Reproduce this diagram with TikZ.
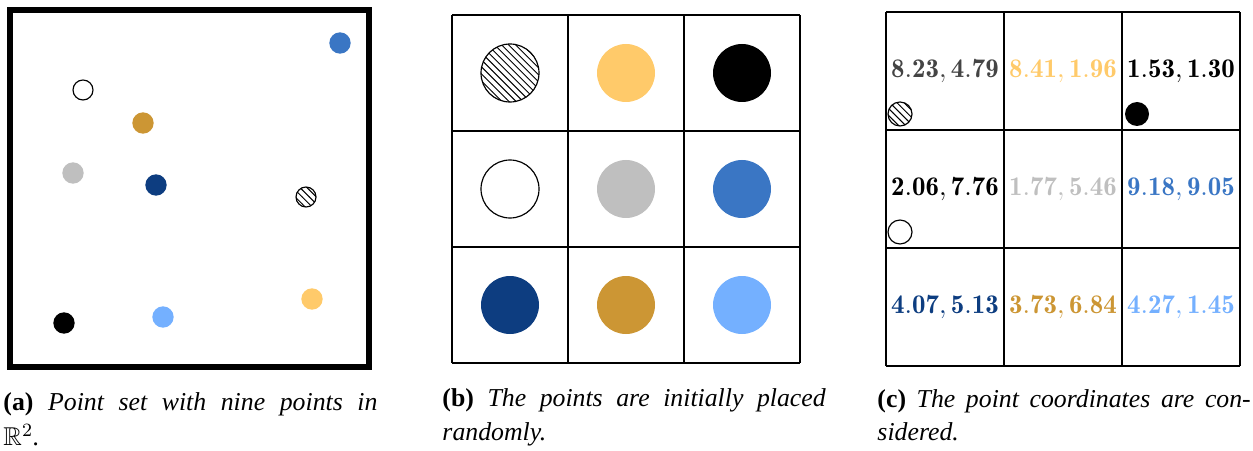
\documentclass[tikz,border=0pt]{standalone}
\usepackage{amsmath}
\usepackage{amssymb}
\usepackage{fontspec}
\usepackage{xcolor}
\usetikzlibrary{patterns}
\newfontfamily\capfont{Liberation Serif}
\definecolor{ptyellow}{RGB}{255, 202, 106}
\definecolor{ptgold}{RGB}{204, 150, 52}
\definecolor{ptnavy}{RGB}{13, 61, 128}
\definecolor{ptblue}{RGB}{58, 118, 196}
\definecolor{ptsky}{RGB}{116, 176, 255}
\definecolor{ptgray}{RGB}{191, 191, 191}
\definecolor{ptdark}{RGB}{68, 68, 68}

\begin{document}
\begin{tikzpicture}[>=stealth,
    hatchpt/.style={draw=black, line width=0.5pt, pattern=north west lines},
    openpt/.style={draw=black, line width=0.5pt, fill=white},
    cell/.style={line width=0.5pt},
    coord/.style={inner sep=0pt, scale=1.15},
    captext/.style={anchor=base west, inner sep=0pt, font=\capfont\fontsize{11}{13}\selectfont}]
    \useasboundingbox (0,0) rectangle (18.795,6.75);

    % Point set
    \draw[line width=0.09cm] (0.15,1.245) rectangle (5.54,6.6);
    \fill[ptblue] (5.10,6.105) circle (0.16);
    \draw[openpt] (1.245,5.40) circle (0.15);
    \fill[ptgold] (2.145,4.905) circle (0.16);
    \fill[ptgray] (1.095,4.155) circle (0.16);
    \fill[ptnavy] (2.34,3.975) circle (0.16);
    \draw[hatchpt] (4.59,3.795) circle (0.15);
    \fill[ptyellow] (4.68,2.265) circle (0.16);
    \fill[ptsky] (2.445,1.995) circle (0.16);
    \fill[black] (0.96,1.905) circle (0.16);

    % Random placement in the grid
    \begin{scope}[shift={(6.78,1.305)}]
        \draw[cell] (0,0) grid[step=1.74] (5.22,5.22);
        \foreach \c/\r/\col in {1/2/ptyellow, 2/2/black, 1/1/ptgray, 2/1/ptblue, 0/0/ptnavy, 1/0/ptgold, 2/0/ptsky}
            \fill[\col] (0.87+1.74*\c,0.87+1.74*\r) circle (0.435);
        \draw[hatchpt] (0.87,4.35) circle (0.435);
        \draw[openpt] (0.87,2.61) circle (0.435);
    \end{scope}

    % Coordinates in the grid
    \begin{scope}[shift={(13.29,1.26)}]
        \draw[cell] (0,0) grid[step=1.77] (5.31,5.31);
        \foreach \c/\r/\col/\txt in {0/2/ptdark/{8.23, 4.79}, 1/2/ptyellow/{8.41, 1.96}, 2/2/black/{1.53, 1.30},
                0/1/black/{2.06, 7.76}, 1/1/ptgray/{1.77, 5.46}, 2/1/ptblue/{9.18, 9.05},
                0/0/ptnavy/{4.07, 5.13}, 1/0/ptgold/{3.73, 6.84}, 2/0/ptsky/{4.27, 1.45}}
            \node[coord, text=\col] (val\c\r) at (0.885+1.77*\c,0.885+1.77*\r) {$\mathbf{\txt}$};
        \draw[hatchpt] (0.21,3.78) circle (0.18);
        \fill[black] (3.765,3.78) circle (0.18);
        \draw[openpt] (0.21,2.01) circle (0.18);
    \end{scope}

    % Captions
    \node[captext] (capa1) at (0.045,0.60) {\makebox[5.61cm][s]{\textbf{(a)} \textit{Point set with nine points in}}};
    \node[captext, text depth=0pt] (capa2) at (0.045,0.07) {$\mathbb{R}^2$\textit{.}};
    \node[captext] (capb1) at (6.63,0.66) {\makebox[5.75cm][s]{\textbf{(b)} \textit{The points are initially placed}}};
    \node[captext] (capb2) at (6.63,0.15) {\textit{randomly.}};
    \node[captext] (capc1) at (13.155,0.645) {\makebox[5.6cm][s]{\textbf{(c)} \textit{The point coordinates are con-}}};
    \node[captext] (capc2) at (13.155,0.15) {\textit{sidered.}};
\end{tikzpicture}
\end{document}
